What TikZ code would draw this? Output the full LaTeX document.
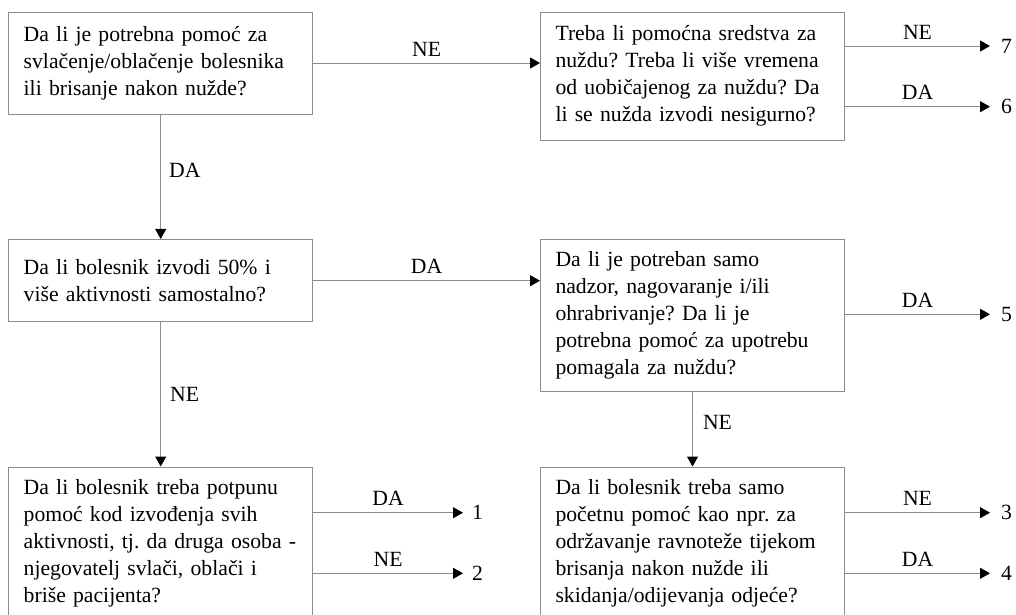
\documentclass[tikz,border=0pt]{standalone}
\usepackage{fontspec}
\setmainfont{Liberation Serif}
\usetikzlibrary{arrows.meta}
\definecolor{linegray}{HTML}{8C8C8C}
\begin{document}
\begin{tikzpicture}[x=1pt,y=-1pt,
 box/.style={draw=linegray, line width=1pt, text width=274pt, inner xsep=15pt, inner ysep=0pt, align=left, minimum width=304pt, font=\fontsize{21.7}{27}\selectfont\frenchspacing, text=black},
 conn/.style={draw=linegray, line width=1pt, -{Triangle[length=10pt,width=11pt,color=black]}},
 lab/.style={font=\fontsize{21.7}{26}\selectfont, inner sep=0pt, text=black},
]
\useasboundingbox (0,0) rectangle (1016,614);
\clip (0,0) rectangle (1016,614);

\node[box, minimum height=102pt] (b1) at (160.7,63) {Da li je potrebna pomoć za\\svlačenje/oblačenje bolesnika\\ili brisanje nakon nužde?};
\node[box, minimum height=128pt] (b2) at (692.5,76) {Treba li pomoćna sredstva za\\nuždu? Treba li više vremena\\od uobičajenog za nuždu? Da\\li se nužda izvodi nesigurno?};
\node[box, minimum height=82.5pt] (b3) at (160.7,280.7) {Da li bolesnik izvodi 50\% i\\više aktivnosti samostalno?};
\node[box, minimum height=152.4pt] (b4) at (692.5,315.5) {Da li je potreban samo\\nadzor, nagovaranje i/ili\\ohrabrivanje? Da li je\\potrebna pomoć za upotrebu\\pomagala za nuždu?};
\node[box, minimum height=152.4pt] (b5) at (160.7,543.2) {Da li bolesnik treba potpunu\\pomoć kod izvođenja svih\\\mbox{aktivnosti, tj. da druga osoba -}\\njegovatelj svlači, oblači i\\briše pacijenta?};
\node[box, minimum height=152.4pt] (b6) at (692.5,543.2) {Da li bolesnik treba samo\\početnu pomoć kao npr. za\\održavanje ravnoteže tijekom\\brisanja nakon nužde ili\\skidanja/odijevanja odjeće?};

% main flow
\draw[conn] (b1.east) -- node[lab, above=6.5pt]{NE} (b1.east -| b2.west);
\draw[conn] (b1.south) -- node[lab, right=8pt, pos=0.45]{DA} (b3.north);
\draw[conn] (b3.east) -- node[lab, above=6.5pt]{DA} (b3.east -| b4.west);
\draw[conn] (b3.south) -- node[lab, right=9pt]{NE} (b5.north);
\draw[conn] (b4.south) -- node[lab, right=10pt, pos=0.4]{NE} (b6.north);

% outcome endpoints
\coordinate (t7) at (990,46);
\coordinate (t6) at (990,106.7);
\coordinate (t5) at (990,314.3);
\coordinate (t1) at (463,512.7);
\coordinate (t2) at (463,573.3);
\coordinate (t3) at (990,512.7);
\coordinate (t4) at (990,573.3);

\draw[conn] (b2.east |- t7) -- node[lab, above=6.5pt]{NE} (t7);
\draw[conn] (b2.east |- t6) -- node[lab, above=6.5pt]{DA} (t6);
\draw[conn] (b4.east |- t5) -- node[lab, above=6.5pt]{DA} (t5);
\draw[conn] (b5.east |- t1) -- node[lab, above=6.5pt]{DA} (t1);
\draw[conn] (b5.east |- t2) -- node[lab, above=6.5pt]{NE} (t2);
\draw[conn] (b6.east |- t3) -- node[lab, above=6.5pt]{NE} (t3);
\draw[conn] (b6.east |- t4) -- node[lab, above=6.5pt]{DA} (t4);

\node[lab, anchor=west] (n7) at ([xshift=11pt]t7) {7};
\node[lab, anchor=west] (n6) at ([xshift=11pt]t6) {6};
\node[lab, anchor=west] (n5) at ([xshift=11pt]t5) {5};
\node[lab, anchor=west] (n1) at ([xshift=9pt]t1) {1};
\node[lab, anchor=west] (n2) at ([xshift=9pt]t2) {2};
\node[lab, anchor=west] (n3) at ([xshift=11pt]t3) {3};
\node[lab, anchor=west] (n4) at ([xshift=11pt]t4) {4};
\end{tikzpicture}
\end{document}
